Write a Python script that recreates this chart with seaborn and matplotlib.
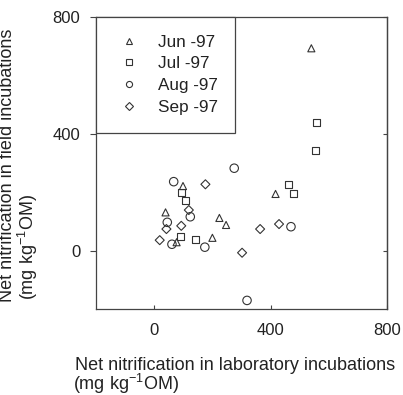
import matplotlib
matplotlib.use("Agg")
import matplotlib.pyplot as plt
from matplotlib.lines import Line2D
import seaborn as sns
import pandas as pd

# ---- data (mg kg-1 OM) ----
months = ["Jun -97", "Jul -97", "Aug -97", "Sep -97"]
jun_lab = [39, 99, 77, 200, 224, 247, 417, 540]
jun_field = [132, 222, 30, 45, 113, 89, 195, 693]
jul_lab = [94, 108, 91, 142, 463, 478, 557, 555]
jul_field = [200, 174, 49, 38, 228, 195, 440, 345]
aug_lab = [67, 124, 45, 61, 174, 275, 319, 470]
aug_field = [237, 117, 98, 23, 13, 283, -169, 83]
sep_lab = [176, 119, 42, 93, 19, 364, 302, 429]
sep_field = [228, 140, 75, 86, 37, 75, -6, 92]

x_ticks = [0, 400, 800]
y_ticks = [0, 400, 800]

lab = [jun_lab, jul_lab, aug_lab, sep_lab]
field = [jun_field, jul_field, aug_field, sep_field]
rows = []
for m, xs, ys in zip(months, lab, field):
    for a, b in zip(xs, ys):
        rows.append({"month": m, "lab": a, "field": b})
df = pd.DataFrame(rows)

sns.set_theme(style="white")
plt.rcParams["font.family"] = ["Liberation Sans", "DejaVu Sans"]
plt.rcParams["mathtext.fontset"] = "custom"
plt.rcParams["mathtext.rm"] = "Liberation Sans"
plt.rcParams["mathtext.it"] = "Liberation Sans"
plt.rcParams["mathtext.default"] = "regular"

edge = "#333333"
markers = {"Jun -97": "^", "Jul -97": "s", "Aug -97": "o", "Sep -97": "D"}
sizes = {"Jun -97": 26, "Jul -97": 25, "Aug -97": 37, "Sep -97": 21}

fig = plt.figure(figsize=(4.03, 3.95), dpi=100)
ax = fig.add_axes([0.2382, 0.2165, 0.9603 - 0.2382, 0.957 - 0.2165])

sns.scatterplot(data=df, x="lab", y="field", style="month", markers=markers,
                size="month", sizes=sizes, facecolor="none", edgecolor=edge,
                linewidth=0.8, legend=False, ax=ax)

ax.set_xlim(-200, 800)
ax.set_ylim(-200, 800)
ax.set_xticks(x_ticks)
ax.set_yticks(y_ticks)
ax.set_xlabel("")
ax.set_ylabel("")

for s in ax.spines.values():
    s.set_visible(True)
    s.set_color("#444444")
    s.set_linewidth(0.9)

ax.tick_params(axis="y", which="both", direction="out", length=4.3, width=0.8,
               color="#444444", pad=7, labelsize=12, labelcolor="#222222",
               left=True, right=False)
ax.tick_params(axis="x", which="both", direction="in", length=3, width=0.8,
               color="#444444", pad=10, labelsize=12, labelcolor="#222222",
               bottom=True, top=False)
# inward ticks on the right spine
ax2 = ax.secondary_yaxis("right")
ax2.set_yticks(y_ticks)
ax2.tick_params(direction="in", length=3, width=0.8, color="#444444", labelright=False)
ax2.spines["right"].set_color("#444444")
ax2.spines["right"].set_linewidth(0.9)

# legend
handles = []
leg_ms = {"Jun -97": 4.4, "Jul -97": 4.0, "Aug -97": 4.4, "Sep -97": 3.7}
for m in months:
    handles.append(Line2D([], [], linestyle="none", marker=markers[m],
                          markersize=leg_ms[m], markerfacecolor="none",
                          markeredgecolor=edge, markeredgewidth=0.8, label=m))
leg = ax.legend(handles=handles, loc="upper left", bbox_to_anchor=(0, 1),
                borderaxespad=0, fontsize=12.3, frameon=True, fancybox=False,
                borderpad=1.03, handlelength=1.84, handletextpad=0.75,
                labelspacing=0.40)
leg.get_frame().set_edgecolor("#444444")
leg.get_frame().set_linewidth(0.9)
leg.get_frame().set_alpha(1)
for t in leg.get_texts():
    t.set_color("#222222")

# axis labels
lab_kw = dict(fontsize=13, color="#222222", rotation_mode="anchor")
fig.text(75 / 403, (395 - 370) / 395, "Net nitrification in laboratory incubations",
         ha="left", va="baseline", **lab_kw)
fig.text(73 / 403, (395 - 390) / 395, r"(mg kg$^{-1}$OM)",
         ha="left", va="baseline", **lab_kw)
fig.text(12.5 / 403, (395 - 302) / 395, "Net nitrification in field incubations",
         ha="left", va="baseline", rotation=90, **lab_kw)
fig.text(34 / 403, (395 - 300) / 395, r"(mg kg$^{-1}$OM)",
         ha="left", va="baseline", rotation=90, **lab_kw)

fig.savefig("out.png", dpi=100)
